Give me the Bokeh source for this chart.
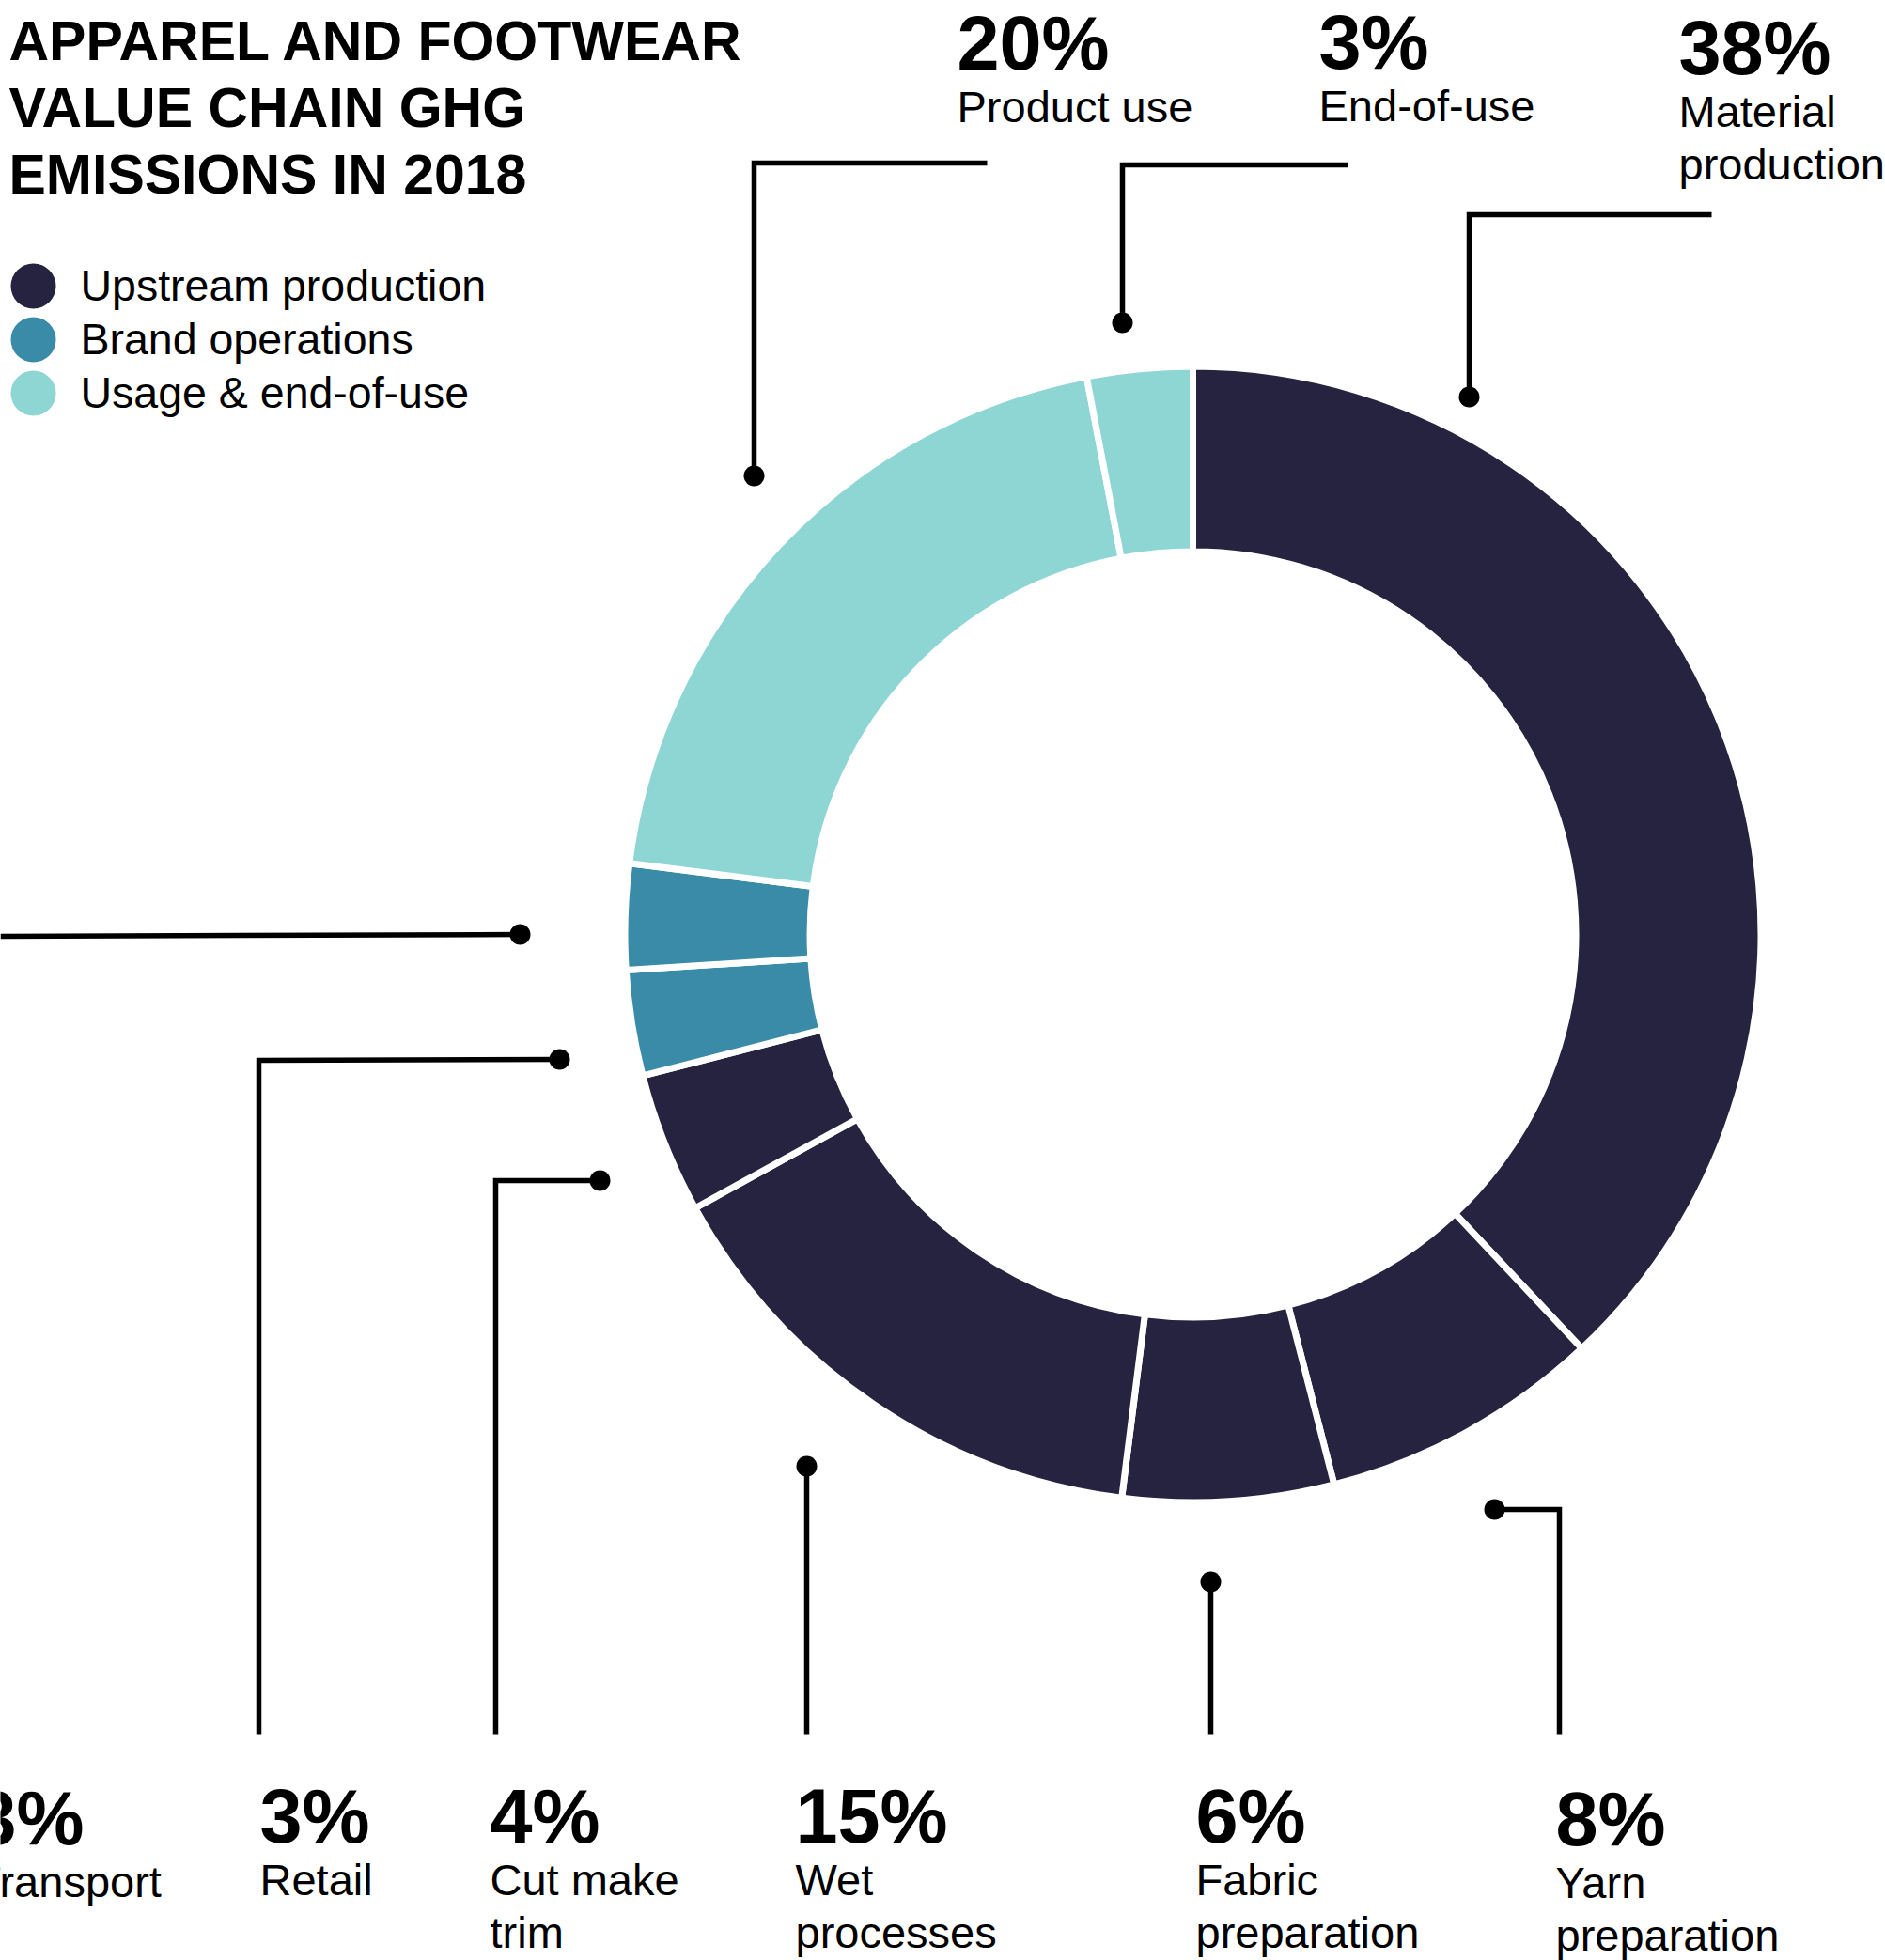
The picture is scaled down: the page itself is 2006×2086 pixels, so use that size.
import math
from bokeh.plotting import figure
from bokeh.models import Range1d, ColumnDataSource
from bokeh.core.properties import value
from bokeh.embed import file_html
from bokeh.resources import INLINE

# ---------------- data ----------------
title_lines = ["APPAREL AND FOOTWEAR", "VALUE CHAIN GHG", "EMISSIONS IN 2018"]
categories = ["Material production", "Yarn preparation", "Fabric preparation",
              "Wet processes", "Cut make trim", "Retail", "Transport",
              "Product use", "End-of-use"]
shares = [38, 8, 6, 15, 4, 3, 3, 20, 3]
groups = ["Upstream production"] * 5 + ["Brand operations"] * 2 + ["Usage & end-of-use"] * 2
label_lines = [["Material", "production"], ["Yarn", "preparation"], ["Fabric", "preparation"],
               ["Wet", "processes"], ["Cut make", "trim"], ["Retail"], ["Transport"],
               ["Product use"], ["End-of-use"]]
legend_groups = ["Upstream production", "Brand operations", "Usage & end-of-use"]

# ---------------- styles / layout ----------------
group_colors = {"Upstream production": "#25233F",
                "Brand operations": "#3A8BA8",
                "Usage & end-of-use": "#8ED6D4"}
FONT = "Liberation Sans"
W, H = 2006, 2086
K = 0.36  # baseline correction (fraction of font size)


def X(x):
    return x


def Y(y):
    return H - y


def YB(baseline, fs):
    return Y(baseline - K * fs)


CX, CY = 1269, 994
R_OUT, R_IN = 601, 411
GAP = 7
FS_PCT, FS_LBL, FS_TITLE, FS_LEG = 81, 47, 59, 46.5

# label anchor (x, baseline of percentage) in page pixels
label_pos = {
    "Material production": (1786, 80),
    "Yarn preparation": (1655, 1965),
    "Fabric preparation": (1272, 1962),
    "Wet processes": (846, 1962),
    "Cut make trim": (521, 1962),
    "Retail": (276, 1962),
    "Transport": (-28, 1964),
    "Product use": (1018, 75),
    "End-of-use": (1403, 74),
}
leader = {
    "Material production": [(1821, 228), (1563, 228), (1563, 422)],
    "Yarn preparation": [(1659, 1846), (1659, 1606), (1590, 1606)],
    "Fabric preparation": [(1288, 1846), (1288, 1683)],
    "Wet processes": [(858, 1846), (858, 1560)],
    "Cut make trim": [(527, 1846), (527, 1256), (638, 1256)],
    "Retail": [(275, 1846), (275, 1128), (595, 1127)],
    "Transport": [(0, 996), (553, 994)],
    "Product use": [(1050, 173), (802, 173), (802, 506)],
    "End-of-use": [(1434, 175), (1194, 175), (1194, 343)],
}

p = figure(width=W, height=H, output_backend="svg", toolbar_location=None,
           x_range=Range1d(0, W), y_range=Range1d(0, H),
           x_axis_location=None, y_axis_location=None, min_border=0,
           background_fill_color="white", border_fill_color="white")
p.outline_line_color = None
p.grid.visible = False

# ---------------- donut ----------------
total = float(sum(shares))
starts, ends = [], []
acc = 0.0
for v in shares:
    starts.append(math.pi / 2 - 2 * math.pi * acc / total)
    acc += v
    ends.append(math.pi / 2 - 2 * math.pi * acc / total)

src = ColumnDataSource(dict(
    x=[X(CX)] * len(shares), y=[Y(CY)] * len(shares),
    start=starts, end=ends,
    color=[group_colors[g] for g in groups],
))
p.annular_wedge(x="x", y="y", inner_radius=R_IN - GAP / 2, outer_radius=R_OUT + GAP / 2,
                start_angle="start", end_angle="end", direction="clock",
                fill_color="color", line_color="white", line_width=GAP, source=src)

# ---------------- leaders ----------------
xs = [[X(px) for px, py in leader[c]] for c in categories]
ys = [[Y(py) for px, py in leader[c]] for c in categories]
p.multi_line(xs=xs, ys=ys, line_color="black", line_width=5.5,
             line_join="miter", line_cap="butt")
p.circle(x=[X(leader[c][-1][0]) for c in categories],
         y=[Y(leader[c][-1][1]) for c in categories],
         radius=11, fill_color="black", line_color=None)

# ---------------- labels ----------------
px_, py_, pt_ = [], [], []
lx, ly, lt = [], [], []
for c, v, lines in zip(categories, shares, label_lines):
    x0, yb = label_pos[c]
    px_.append(X(x0)); py_.append(YB(yb, FS_PCT)); pt_.append(f"{v}%")
    for i, t in enumerate(lines):
        lx.append(X(x0)); ly.append(YB(yb + 55 + 56 * i, FS_LBL)); lt.append(t)

p.text(x=px_, y=py_, text=pt_, text_font=value(FONT), text_font_style="bold",
       text_font_size=f"{FS_PCT}px", text_color="black", text_align="left",
       text_baseline="alphabetic")
p.text(x=lx, y=ly, text=lt, text_font=value(FONT), text_font_size=f"{FS_LBL}px",
       text_color="black", text_align="left", text_baseline="alphabetic")

# ---------------- title ----------------
p.text(x=[X(9)] * 3, y=[YB(65 + 71 * i, FS_TITLE) for i in range(3)], text=title_lines,
       text_font=value(FONT), text_font_style="bold", text_font_size=f"{FS_TITLE}px",
       text_color="black", text_align="left", text_baseline="alphabetic")

# ---------------- legend ----------------
leg_y = [304, 361, 418]
p.circle(x=[X(35)] * 3, y=[Y(v) for v in leg_y], radius=24,
         fill_color=[group_colors[g] for g in legend_groups], line_color=None)
p.text(x=[X(85)] * 3, y=[YB(v + 16, FS_LEG) for v in leg_y], text=legend_groups,
       text_font=value(FONT), text_font_size=f"{FS_LEG}px", text_color="black",
       text_align="left", text_baseline="alphabetic")

open("out.html", "w").write(file_html(p, INLINE))
